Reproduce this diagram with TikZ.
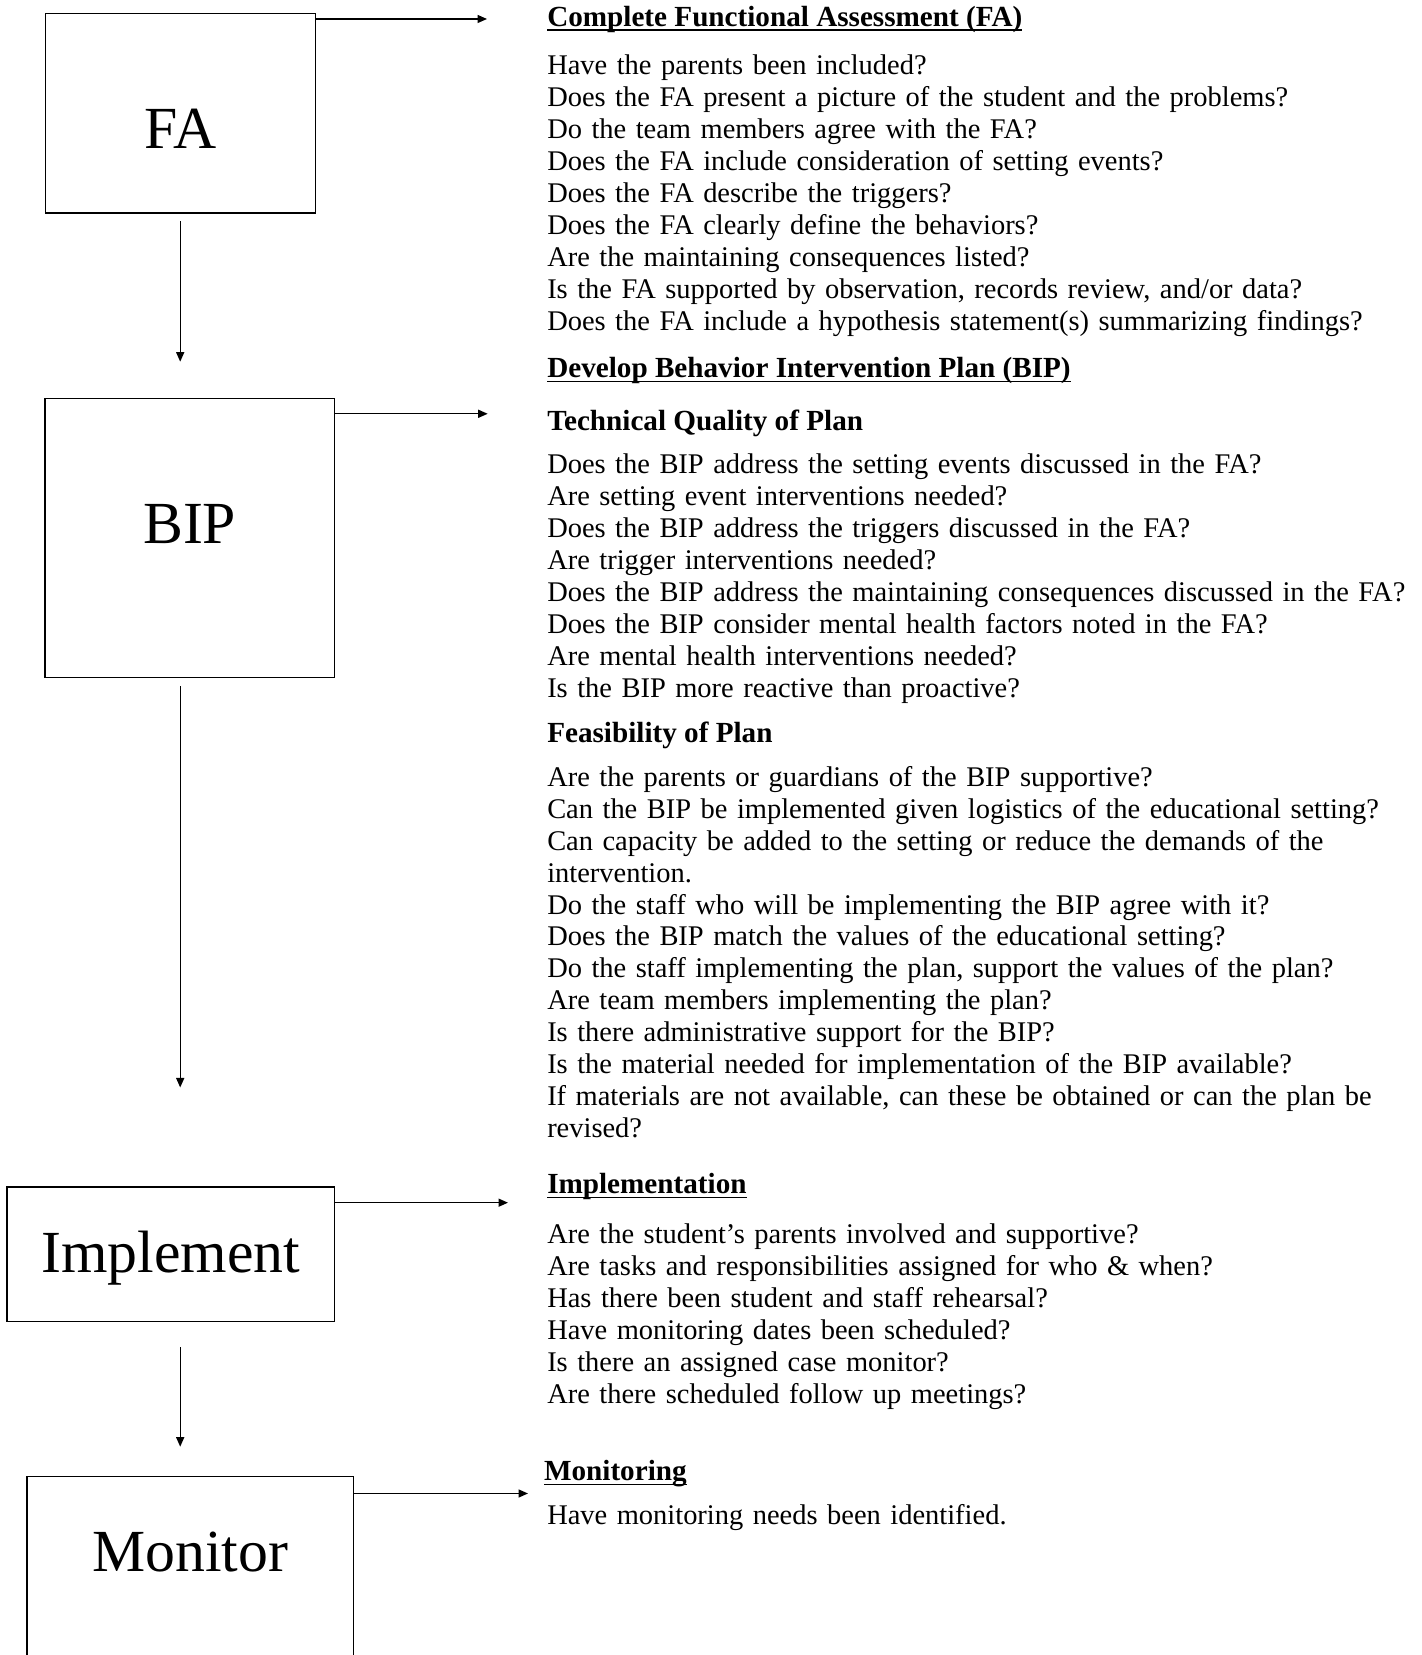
\documentclass[tikz,border=0pt]{standalone}
\usepackage{fontspec}
\setmainfont{Liberation Serif}
\usetikzlibrary{arrows.meta,positioning}
\newsavebox\ulbox
\newcommand{\ulhead}[1]{\sbox\ulbox{#1}\rlap{\rule[-2.6pt]{\wd\ulbox}{0.9pt}}\usebox\ulbox}

\begin{document}
\begin{tikzpicture}[
    stage/.style={rectangle,draw,line width=0.8pt,inner sep=0pt,anchor=north west,font=\fontsize{34}{40}\selectfont},
    head/.style={anchor=base west,inner sep=0pt,font=\fontsize{16.6}{18.17}\selectfont\bfseries},
    qlist/.style={anchor=base west,inner sep=0pt,align=left,text width=18cm,font=\fontsize{16.2}{18.17}\selectfont},
    arr/.style={-{Triangle[length=1.9mm,width=1.6mm]},line width=0.8pt},
]
\useasboundingbox (0,0) rectangle (28.44,33.1);
\clip (0,0) rectangle (28.44,33.1);

% Stages
\node[stage,minimum width=5.40cm,text height=2.696cm,text depth=1.296cm] (fa) at (0.89,32.846) {FA};
\node[stage,minimum width=5.786cm,text height=2.892cm,text depth=2.682cm] (bip) at (0.886,25.14) {BIP};
\node[stage,minimum width=6.546cm,text height=1.704cm,text depth=0.986cm] (impl) at (0.126,9.37) {Implement};
\node[stage,minimum width=6.524cm,text height=1.894cm,text depth=3.0cm] (mon) at (0.528,3.58) {Monitor};

% Arrow ends
\coordinate (faout) at (9.74,32.72);
\coordinate (bipout) at (9.754,24.824);
\coordinate (implout) at (10.16,9.046);
\coordinate (monout) at (10.56,3.23);

% Checklists
\node[head] (hfa) at (10.938,32.576) {\ulhead{Complete Functional Assessment (FA)}};
\node[qlist] (qfa) at (10.938,31.604) {Have the parents been included?\\
Does the FA present a picture of the student and the problems?\\
Do the team members agree with the FA?\\
Does the FA include consideration of setting events?\\
Does the FA describe the triggers?\\
Does the FA clearly define the behaviors?\\
Are the maintaining consequences listed?\\
Is the FA supported by observation, records review, and/or data?\\
Does the FA include a hypothesis statement(s) summarizing findings?};

\node[head] (hbip) at (10.938,25.546) {\ulhead{Develop Behavior Intervention Plan (BIP)}};
\node[head] (htech) at (10.938,24.49) {Technical Quality of Plan};
\node[qlist] (qtech) at (10.938,23.624) {Does the BIP address the setting events discussed in the FA?\\
Are setting event interventions needed?\\
Does the BIP address the triggers discussed in the FA?\\
Are trigger interventions needed?\\
Does the BIP address the maintaining consequences discussed in the FA?\\
Does the BIP consider mental health factors noted in the FA?\\
Are mental health interventions needed?\\
Is the BIP more reactive than proactive?};

\node[head] (hfeas) at (10.938,18.24) {Feasibility of Plan};
\node[qlist] (qfeas) at (10.938,17.374) {Are the parents or guardians of the BIP supportive?\\
Can the BIP be implemented given logistics of the educational setting?\\
Can capacity be added to the setting or reduce the demands of the\\
intervention.\\
Do the staff who will be implementing the BIP agree with it?\\
Does the BIP match the values of the educational setting?\\
Do the staff implementing the plan, support the values of the plan?\\
Are team members implementing the plan?\\
Is there administrative support for the BIP?\\
Is the material needed for implementation of the BIP available?\\
If materials are not available, can these be obtained or can the plan be\\
revised?};

\node[head] (himpl) at (10.938,9.224) {\ulhead{Implementation}};
\node[qlist] (qimpl) at (10.938,8.232) {Are the student’s parents involved and supportive?\\
Are tasks and responsibilities assigned for who \& when?\\
Has there been student and staff rehearsal?\\
Have monitoring dates been scheduled?\\
Is there an assigned case monitor?\\
Are there scheduled follow up meetings?};

\node[head] (hmon) at (10.874,3.482) {\ulhead{Monitoring}};
\node[qlist] (qmon) at (10.938,2.616) {Have monitoring needs been identified.};

% Arrows
\draw[arr] (fa.east |- faout) -- (faout);
\draw[arr] (bip.east |- bipout) -- (bipout);
\draw[arr] (impl.east |- implout) -- (implout);
\draw[arr] (mon.east |- monout) -- (monout);
\draw[arr,shorten <=0.154cm,shorten >=0.726cm] (fa.south) -- (fa.south |- bip.north);
\draw[arr,shorten <=0.166cm,shorten >=1.98cm] (bip.south -| fa.south) -- (impl.north -| fa.south);
\draw[arr,shorten <=0.5cm,shorten >=0.586cm] (impl.south -| fa.south) -- (mon.north -| fa.south);
\end{tikzpicture}
\end{document}
